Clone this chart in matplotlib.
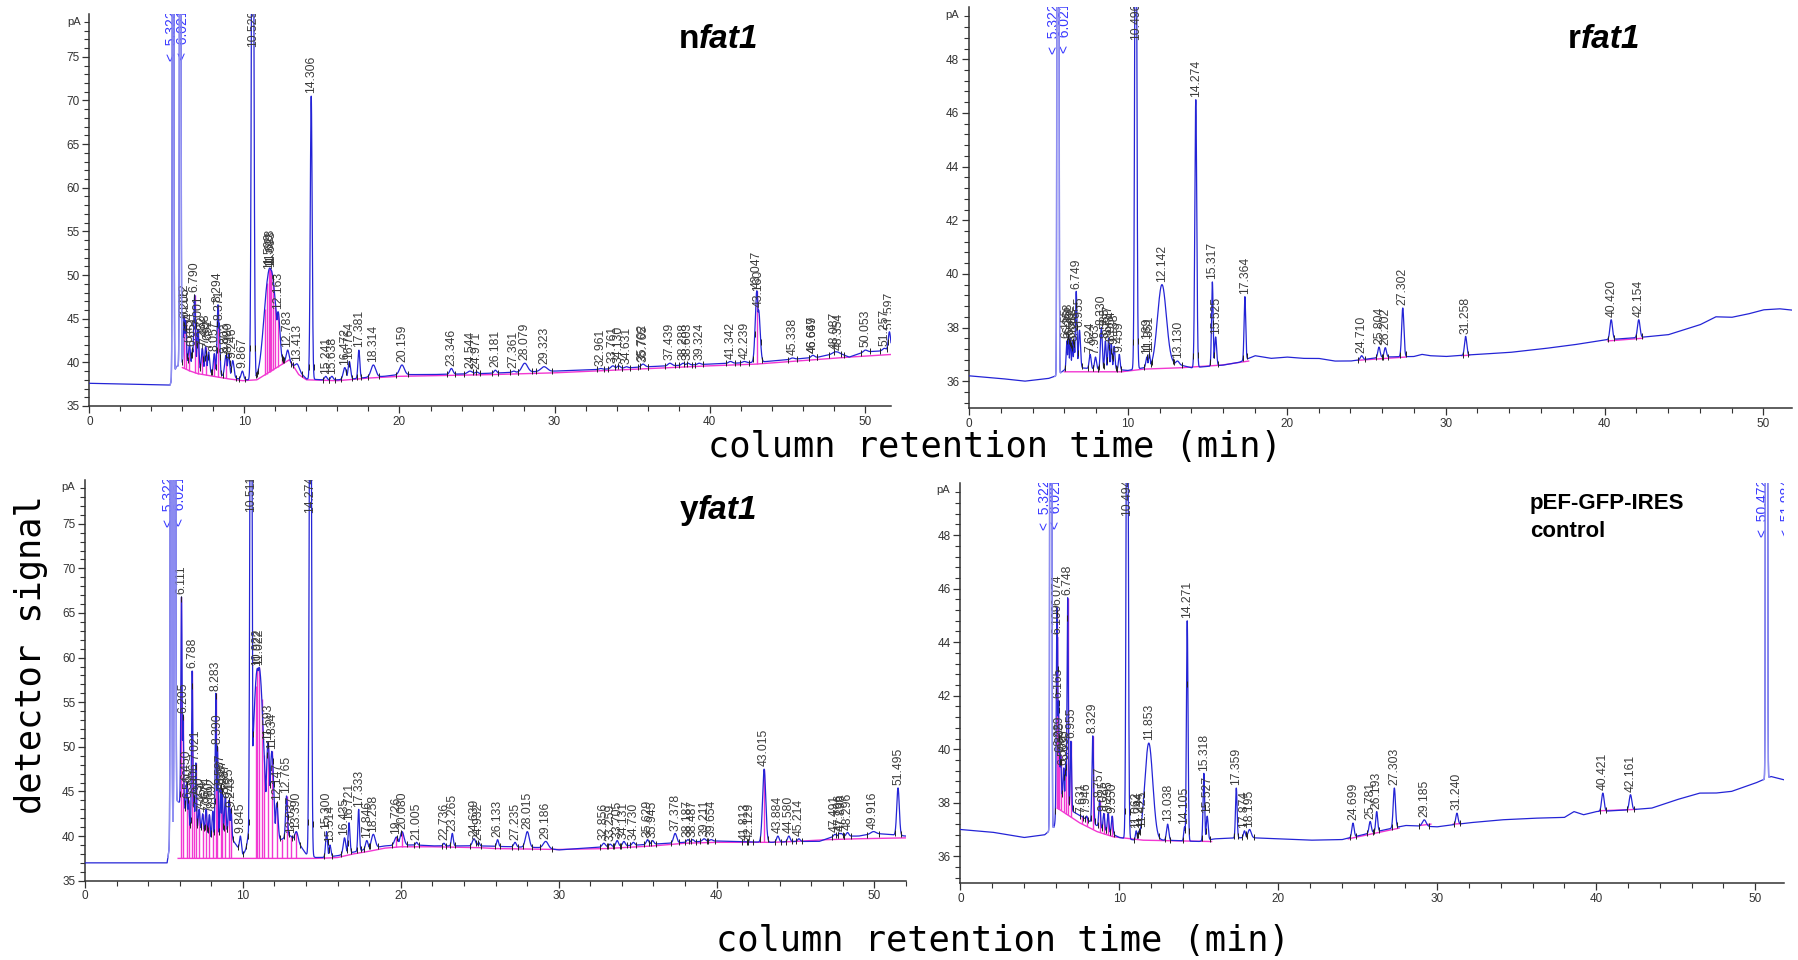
import numpy as np
import matplotlib.pyplot as plt
from matplotlib.ticker import MultipleLocator
from matplotlib.transforms import offset_copy

W, H = 1798, 960

# ---------------- nfat1 (top left) ----------------
nfat1_base_t = [0, 5.2, 5.6, 6.3, 7.0, 8.0, 9.0, 10.0, 11.0, 12.0, 12.8, 13.4, 14.0, 15.0, 16.0, 17.0,
                18.0, 19.0, 20.0, 22.0, 25.0, 28.0, 30.0, 33.0, 36.0, 40.0, 43.0, 45.0, 47.0, 48.3, 49.0,
                50.0, 51.0, 51.7]
nfat1_base_y = [37.6, 37.4, 39.5, 40.0, 39.2, 38.7, 38.3, 38.0, 38.0, 39.0, 40.2, 39.2, 38.1, 38.0, 38.0, 38.1,
                38.3, 38.4, 38.6, 38.6, 38.7, 38.9, 39.0, 39.2, 39.5, 39.8, 40.0, 40.3, 40.6, 41.1, 40.6,
                41.2, 41.3, 41.6]
nfat1_rt = [6.112, 6.205, 6.454, 6.651, 6.790, 7.001, 7.282, 7.498, 7.692, 8.057, 8.294, 8.371, 8.803,
            8.980, 9.246, 9.867, 10.529, 11.599, 11.628, 11.693, 12.163, 12.783, 13.413, 14.306, 15.241,
            15.638, 16.472, 16.764, 17.381, 18.314, 20.159, 23.346, 24.544, 24.971, 26.181, 27.361, 28.079,
            29.323, 32.961, 33.761, 34.130, 34.631, 35.702, 35.765, 37.439, 38.288, 38.603, 39.324, 41.342,
            42.239, 43.047, 43.160, 45.338, 46.647, 46.669, 48.087, 48.354, 50.053, 51.257, 51.597]
nfat1_top = [45.3, 44.8, 42.0, 41.5, 47.7, 43.8, 41.6, 41.8, 41.2, 41.0, 46.6, 44.5, 40.8,
             40.9, 40.2, 39.0, 120, 50.4, 50.8, 50.6, 45.8, 41.4, 39.8, 70.5, 38.4,
             38.4, 39.4, 40.1, 41.4, 39.7, 39.7, 39.3, 39.0, 38.9, 39.1, 39.0, 39.9,
             39.5, 39.3, 39.6, 39.6, 39.5, 39.8, 39.7, 39.9, 39.9, 39.9, 39.9, 40.1,
             40.1, 48.2, 46.0, 40.5, 40.8, 40.8, 41.2, 41.1, 41.4, 41.6, 43.5]
nfat1_wid = [0.05, 0.05, 0.06, 0.05, 0.06, 0.06, 0.06, 0.06, 0.06, 0.06, 0.06, 0.05, 0.08,
             0.07, 0.08, 0.08, 0.07, 0.33, 0.33, 0.33, 0.13, 0.10, 0.12, 0.06, 0.08,
             0.08, 0.10, 0.08, 0.06, 0.15, 0.15, 0.10, 0.15, 0.10, 0.08, 0.10, 0.18,
             0.20, 0.10, 0.12, 0.10, 0.10, 0.12, 0.10, 0.12, 0.10, 0.10, 0.10, 0.12,
             0.12, 0.10, 0.10, 0.12, 0.10, 0.10, 0.15, 0.12, 0.12, 0.10, 0.07]
nfat1_spike_t = [5.40, 5.86]
nfat1_flag_rt = [5.322, 6.021]
nfat1_int_t = [6.0, 6.5, 7.0, 8.0, 9.0, 9.9, 10.8, 12.9, 13.5, 14.0, 16.0, 18.0, 20.0, 23.0, 26.0, 30.0,
               35.0, 40.0, 43.0, 46.0, 49.0, 51.7]
nfat1_int_y = [39.4, 39.0, 38.7, 38.4, 38.1, 37.9, 38.0, 40.3, 38.6, 38.0, 37.9, 38.2, 38.4, 38.5, 38.6, 38.8,
               39.2, 39.6, 39.8, 40.2, 40.6, 40.9]
nfat1_drop_t = [6.112, 6.205, 6.454, 6.790, 7.001, 7.282, 7.498, 8.057, 8.294, 8.803, 11.30, 11.45,
                11.599, 11.628, 11.693, 11.85, 12.0, 12.163, 12.45, 43.047]

# ---------------- rfat1 (top right) ----------------
rfat1_base_t = [0, 2, 3.5, 5.0, 5.5, 6.2, 7.0, 8.0, 9.0, 10.0, 11.0, 12.0, 13.0, 14.0, 15.0, 16.0, 17.0,
                18.0, 19.0, 20.0, 21.0, 22.0, 23.0, 24.0, 25.0, 26.0, 28.0, 28.5, 29.0, 30.0, 32.0, 34.0,
                36.0, 38.0, 40.0, 42.0, 44.0, 46.0, 47.0, 48.0, 49.0, 50.0, 51.0, 51.8]
rfat1_base_y = [36.2, 36.1, 36.0, 36.1, 36.2, 36.5, 36.5, 36.45, 36.45, 36.4, 36.5, 36.5, 36.65, 36.5, 36.55,
                36.6, 36.7, 36.95, 36.85, 36.9, 36.85, 36.85, 36.75, 36.75, 36.82, 36.9, 36.92, 37.0, 36.95,
                36.92, 37.0, 37.07, 37.2, 37.35, 37.54, 37.62, 37.73, 38.1, 38.4, 38.38, 38.5, 38.66, 38.7,
                38.65]
rfat1_rt = [6.155, 6.258, 6.382, 6.512, 6.618, 6.749, 6.955, 7.624, 7.963, 8.330, 8.585, 8.787, 8.954,
            9.138, 9.459, 10.496, 11.189, 11.351, 12.142, 13.130, 14.274, 15.317, 15.525, 17.364, 24.710,
            25.804, 26.202, 27.302, 31.258, 40.420, 42.154]
rfat1_top = [37.5, 37.7, 37.6, 37.5, 37.4, 39.35, 37.9, 37.0, 36.9, 38.0, 37.5, 37.6, 37.4,
             37.3, 37.0, 60, 36.9, 37.0, 39.6, 36.75, 46.5, 39.7, 37.65, 39.15, 36.95,
             37.27, 37.25, 38.73, 37.67, 38.29, 38.29]
rfat1_wid = [0.04, 0.04, 0.04, 0.04, 0.04, 0.05, 0.06, 0.06, 0.06, 0.06, 0.05, 0.05, 0.05,
             0.05, 0.05, 0.06, 0.06, 0.06, 0.28, 0.10, 0.06, 0.05, 0.06, 0.05, 0.08,
             0.07, 0.07, 0.07, 0.07, 0.08, 0.08]
rfat1_spike_t = [5.60]
rfat1_flag_rt = [5.322, 6.021]
rfat1_int_t = [6.0, 9.6, 10.3, 11.0, 13.3, 15.9, 17.6, np.nan, 24.5, 27.5, np.nan, 31.0, 31.5, np.nan,
               40.2, 42.4]
rfat1_int_y = [36.35, 36.35, 36.4, 36.45, 36.5, 36.6, 36.75, np.nan, 36.78, 36.9, np.nan, 36.95, 36.97,
               np.nan, 37.5, 37.6]
rfat1_drop_t = []

# ---------------- yfat1 (bottom left) ----------------
yfat1_base_t = [0, 5.2, 5.8, 6.3, 6.6, 7.5, 8.0, 9.0, 9.5, 10.0, 10.4, 12.9, 13.5, 14.0, 14.6, 15.0,
                16.0, 17.0, 18.0, 19.0, 20.0, 21.0, 22.0, 25.0, 27.0, 29.0, 30.0, 33.0, 35.0, 37.0, 39.0,
                40.0, 42.0, 43.5, 45.0, 46.5, 47.5, 49.0, 50.0, 50.8, 52.0]
yfat1_base_y = [37.0, 37.0, 44.0, 43.3, 41.1, 40.7, 39.6, 40.5, 39.2, 37.9, 38.0, 40.0, 39.3, 38.0, 37.6,
                37.6, 37.8, 38.2, 38.6, 38.9, 39.0, 39.0, 38.9, 38.9, 38.8, 38.7, 38.45, 38.8, 39.0, 39.2,
                39.4, 39.45, 39.35, 39.3, 39.4, 39.4, 40.0, 40.0, 40.3, 40.2, 40.0]
yfat1_rt = [6.111, 6.205, 6.450, 6.560, 6.788, 6.906, 7.021, 7.230, 7.454, 7.674, 7.880, 8.092, 8.283,
            8.390, 8.587, 8.687, 8.887, 9.125, 9.245, 9.845, 10.511, 10.922, 11.022, 11.593, 11.834,
            12.147, 12.765, 13.037, 13.390, 14.274, 15.300, 15.514, 16.435, 16.721, 17.333, 17.846,
            18.258, 19.726, 20.080, 21.005, 22.736, 23.265, 24.639, 24.932, 26.133, 27.235, 28.015,
            29.186, 32.856, 33.259, 33.705, 34.131, 34.730, 35.629, 35.945, 37.378, 38.187, 38.487,
            39.211, 39.654, 41.813, 42.129, 43.015, 43.884, 44.580, 45.214, 47.491, 47.796, 47.898,
            48.296, 49.916, 51.495]
yfat1_top = [66.8, 53.5, 46.0, 44.0, 58.5, 44.5, 48.2, 43.0, 42.5, 43.0, 42.4, 42.8, 56.0,
             50.0, 45.5, 45.0, 44.5, 44.0, 43.0, 40.0, 120, 58.8, 58.9, 50.5, 49.5,
             43.7, 44.5, 40.0, 40.5, 120, 40.5, 39.0, 39.8, 41.5, 43.0, 39.5,
             40.2, 39.9, 40.5, 39.3, 39.2, 40.3, 39.7, 39.3, 39.6, 39.3, 40.5,
             39.4, 39.2, 39.1, 39.5, 39.4, 39.3, 39.6, 39.5, 40.3, 39.6, 39.6,
             39.7, 39.6, 39.3, 39.2, 47.5, 40.0, 40.0, 39.7, 40.2, 40.3, 40.3,
             40.4, 40.5, 45.4]
yfat1_wid = [0.04, 0.04, 0.04, 0.04, 0.04, 0.04, 0.04, 0.05, 0.05, 0.05, 0.05, 0.05, 0.04,
             0.04, 0.04, 0.04, 0.05, 0.05, 0.05, 0.06, 0.06, 0.28, 0.28, 0.12, 0.12,
             0.08, 0.06, 0.08, 0.10, 0.06, 0.06, 0.06, 0.08, 0.06, 0.05, 0.08,
             0.12, 0.12, 0.12, 0.06, 0.06, 0.06, 0.10, 0.06, 0.06, 0.08, 0.12,
             0.15, 0.10, 0.08, 0.08, 0.08, 0.08, 0.08, 0.08, 0.10, 0.08, 0.08,
             0.10, 0.10, 0.08, 0.08, 0.10, 0.08, 0.08, 0.08, 0.08, 0.08, 0.08,
             0.08, 0.15, 0.08]
yfat1_spike_t = [5.45, 5.70]
yfat1_flag_rt = [5.322, 6.021]
yfat1_int_t = [5.9, 14.6, 15.5, 16.0, 17.0, 18.0, 19.0, 20.0, 22.0, 25.0, 26.0, 30.0, 33.0, 36.0, 38.0,
               40.0, 43.5, 45.0, 47.0, 49.0, 52.0]
yfat1_int_y = [37.5, 37.5, 37.55, 37.6, 38.0, 38.3, 38.65, 38.8, 38.8, 38.7, 38.6, 38.5, 38.6, 38.9, 39.2,
               39.3, 39.3, 39.4, 39.6, 39.7, 39.8]
yfat1_drop_t = [6.111, 6.205, 6.450, 6.560, 6.788, 6.906, 7.021, 7.230, 7.454, 7.674, 7.880, 8.092,
                8.283, 8.390, 8.587, 8.687, 8.887, 9.125, 9.245, 10.80, 10.922, 11.022, 11.20, 11.35,
                11.593, 11.834, 12.147, 12.45, 12.765, 13.037, 13.390, 19.726, 20.080, 43.015]

# ---------------- pEF-GFP-IRES control (bottom right) ----------------
ctrl_base_t = [0, 2, 4, 5.3, 5.9, 6.3, 6.6, 7.0, 8.0, 9.0, 9.5, 10.0, 11.0, 13.0, 15.0, 16.0, 18.0, 20.0,
               22.0, 24.0, 26.0, 28.0, 30.0, 32.0, 34.0, 36.0, 38.0, 38.6, 39.2, 40.0, 42.0, 43.5, 45.0,
               46.5, 47.5, 48.5, 50.0, 51.0, 51.8]
ctrl_base_y = [37.0, 36.9, 36.7, 36.8, 37.1, 38.4, 38.0, 37.7, 37.35, 37.0, 36.85, 36.7, 36.6, 36.6, 36.55,
               36.65, 36.7, 36.65, 36.6, 36.62, 36.9, 37.15, 37.1, 37.25, 37.36, 37.42, 37.45, 37.67,
               37.55, 37.67, 37.73, 37.8, 38.1, 38.36, 38.36, 38.42, 38.73, 38.98, 38.86]
ctrl_rt = [6.074, 6.109, 6.165, 6.229, 6.305, 6.500, 6.630, 6.748, 6.955, 7.631, 7.946, 8.329, 8.757,
           9.025, 9.295, 9.550, 10.494, 11.062, 11.244, 11.425, 11.853, 13.038, 14.105, 14.271, 15.318,
           15.527, 17.359, 17.874, 18.195, 24.699, 25.781, 26.193, 27.303, 29.185, 31.240, 40.421, 42.161]
ctrl_top = [45.3, 44.2, 41.8, 40.0, 39.8, 39.3, 39.5, 45.66, 40.3, 37.5, 37.5, 40.5, 38.1,
            37.6, 37.6, 37.5, 60, 36.95, 36.95, 37.0, 40.23, 37.2, 37.1, 44.8, 39.1,
            37.5, 38.55, 36.95, 37.0, 37.24, 37.3, 37.67, 38.55, 37.36, 37.61, 38.36, 38.3]
ctrl_wid = [0.04, 0.03, 0.04, 0.04, 0.04, 0.04, 0.04, 0.04, 0.04, 0.04, 0.04, 0.05, 0.05,
            0.05, 0.05, 0.05, 0.06, 0.05, 0.05, 0.05, 0.25, 0.07, 0.05, 0.05, 0.05,
            0.06, 0.05, 0.06, 0.10, 0.07, 0.07, 0.06, 0.07, 0.12, 0.07, 0.08, 0.08]
ctrl_spike_t = [5.69, 50.72]
ctrl_flag_rt = [5.322, 6.021, 50.472, 51.984]
ctrl_int_t = [6.1, 7.5, 8.6, 9.6, 11.5, 15.8, np.nan, 24.4, 27.6, np.nan, 28.9, 29.6, np.nan, 31.0, 31.5,
              np.nan, 40.2, 42.5]
ctrl_int_y = [37.8, 37.25, 36.92, 36.73, 36.6, 36.55, np.nan, 36.65, 37.05, np.nan, 37.15, 37.2, np.nan,
              37.2, 37.22, np.nan, 37.7, 37.75]
ctrl_drop_t = [6.074, 6.109, 6.165, 6.229, 6.305, 6.500, 6.630, 6.748, 6.955, 7.631, 7.946, 8.329,
               8.757, 9.025, 9.295, 9.550]

BLUE = '#2424d6'
LAVENDER = '#8f8ff2'
MAGENTA = '#f238d2'
FLAG_BLUE = '#3a3aff'
LABEL_GRAY = '#3c3c3c'


def make_trace(t, base_t, base_y, rt, top, wid, spike_t):
    base = np.interp(t, base_t, base_y)
    y = base.copy()
    for r, h, w in zip(rt, top, wid):
        amp = h - np.interp(r, base_t, base_y)
        y = np.maximum(y, base + amp * np.exp(-0.5 * ((t - r) / w) ** 2))
    for s in spike_t:
        y = np.maximum(y, base + 150 * np.exp(-0.5 * ((t - s) / 0.035) ** 2))
    return y


def draw_panel(ax, base_t, base_y, rt, top, wid, spike_t, flag_rt, int_t, int_y, drop_t,
               xmax, ymax, ystep, yminor):
    t = np.arange(0, xmax + 0.004, 0.004)
    y = make_trace(t, base_t, base_y, rt, top, wid, spike_t)

    # integration baseline (magenta) and drop lines
    int_t = np.array(int_t, dtype=float)
    int_y = np.array(int_y, dtype=float)
    ax.plot(int_t, int_y, color=MAGENTA, lw=1.0, zorder=2)
    ok = ~np.isnan(int_t)
    if len(drop_t):
        lo = np.interp(drop_t, int_t[ok], int_y[ok])
        hi = np.interp(drop_t, t, y)
        ax.vlines(drop_t, lo, hi, color=MAGENTA, lw=1.0, zorder=2)

    ax.plot(t, y, color=BLUE, lw=0.9, zorder=3)
    for s in spike_t:
        m = (t > s - 0.2) & (t < s + 0.2)
        ax.plot(t[m], y[m], color=LAVENDER, lw=1.0, zorder=4)

    # peak start / end ticks
    edges = np.concatenate([np.array(rt) - 2.5 * np.array(wid), np.array(rt) + 2.5 * np.array(wid)])
    ax.plot(edges, np.interp(edges, t, y), ls='', marker='|', ms=5, mew=0.7, color='#222222', zorder=4)

    # retention time labels
    above = offset_copy(ax.transData, fig=ax.figure, y=2, units='points')
    at_top = offset_copy(ax.transData, fig=ax.figure, y=3, units='points')
    for r, h in zip(rt, top):
        if h >= ymax:
            ax.text(r, ymax, f"{r:.3f}", rotation=90, ha='center', va='top', fontsize=8.7,
                    color=LABEL_GRAY, family='Liberation Sans', transform=at_top, clip_on=True)
        else:
            ax.text(r, h, f"{r:.3f}", rotation=90, ha='center', va='bottom', fontsize=8.7,
                    color=LABEL_GRAY, family='Liberation Sans', transform=above, clip_on=True)
    for r in flag_rt:
        ax.text(r, ymax, f"<  {r:.3f}", rotation=90, ha='center', va='top', fontsize=10,
                color=FLAG_BLUE, family='Liberation Sans', transform=at_top, clip_on=True)

    ax.set_xlim(0, xmax)
    ax.set_ylim(35, ymax)
    for side in ['top', 'right']:
        ax.spines[side].set_visible(False)
    for side in ['left', 'bottom']:
        ax.spines[side].set_color('#333333')
        ax.spines[side].set_linewidth(1.1)
    ax.xaxis.set_major_locator(MultipleLocator(10))
    ax.xaxis.set_minor_locator(MultipleLocator(2))
    ax.yaxis.set_major_locator(MultipleLocator(ystep))
    ax.yaxis.set_minor_locator(MultipleLocator(yminor))
    ax.tick_params(which='major', length=5, width=0.9, color='#333333', labelsize=8.5,
                   labelcolor='#333333', pad=2)
    ax.tick_params(which='minor', length=3.5, width=0.8, color='#333333')
    for lab in ax.get_xticklabels() + ax.get_yticklabels():
        lab.set_family('Liberation Sans')


fig = plt.figure(figsize=(W / 100, H / 100), dpi=100)


def box(left, right, top, bottom):
    return [left / W, 1 - bottom / H, (right - left) / W, (bottom - top) / H]


ax_n = fig.add_axes(box(89.4, 891, 14, 406))
ax_r = fig.add_axes(box(969, 1792, 7, 408))
ax_y = fig.add_axes(box(85, 906, 480, 880.7))
ax_c = fig.add_axes(box(960.4, 1783.7, 483, 883))

draw_panel(ax_n, nfat1_base_t, nfat1_base_y, nfat1_rt, nfat1_top, nfat1_wid, nfat1_spike_t,
           nfat1_flag_rt, nfat1_int_t, nfat1_int_y, nfat1_drop_t, 51.7, 79.9, 5, 1)
draw_panel(ax_r, rfat1_base_t, rfat1_base_y, rfat1_rt, rfat1_top, rfat1_wid, rfat1_spike_t,
           rfat1_flag_rt, rfat1_int_t, rfat1_int_y, rfat1_drop_t, 51.8, 49.95, 2, 0.4)
draw_panel(ax_y, yfat1_base_t, yfat1_base_y, yfat1_rt, yfat1_top, yfat1_wid, yfat1_spike_t,
           yfat1_flag_rt, yfat1_int_t, yfat1_int_y, yfat1_drop_t, 52, 79.9, 5, 1)
draw_panel(ax_c, ctrl_base_t, ctrl_base_y, ctrl_rt, ctrl_top, ctrl_wid, ctrl_spike_t,
           ctrl_flag_rt, ctrl_int_t, ctrl_int_y, ctrl_drop_t, 51.8, 49.95, 2, 0.4)

# "pA" unit marks
for px, py in [(74, 22), (952, 15), (68, 487), (943, 490)]:
    fig.text(px / W, 1 - py / H, 'pA', ha='center', va='center', fontsize=8,
             color='#333333', family='Liberation Sans')

# panel titles: prefix upright, "fat1" italic
for px, py, pre in [(699, 48, 'n'), (1581, 48, 'r'), (698, 519, 'y')]:
    fig.text(px / W, 1 - py / H, pre, ha='right', va='baseline', fontsize=24,
             fontweight='bold', family='Liberation Sans')
    fig.text(px / W, 1 - py / H, 'fat1', ha='left', va='baseline', fontsize=24,
             fontweight='bold', fontstyle='italic', family='Liberation Sans')
fig.text(1530 / W, 1 - 509 / H, 'pEF-GFP-IRES', ha='left', va='baseline', fontsize=16,
         fontweight='bold', family='Liberation Sans')
fig.text(1530 / W, 1 - 537 / H, 'control', ha='left', va='baseline', fontsize=16,
         fontweight='bold', family='Liberation Sans')

# shared axis captions
fig.text(995 / W, 1 - 447 / H, 'column retention time (min)', ha='center', va='center',
         fontsize=25.5, family='DejaVu Sans Mono')
fig.text(1003 / W, 1 - 941 / H, 'column retention time (min)', ha='center', va='center',
         fontsize=25.5, family='DejaVu Sans Mono')
fig.text(31 / W, 1 - 655 / H, 'detector signal', ha='center', va='center', rotation=90,
         fontsize=25.5, family='DejaVu Sans Mono')

fig.savefig('out.png', dpi=100)
